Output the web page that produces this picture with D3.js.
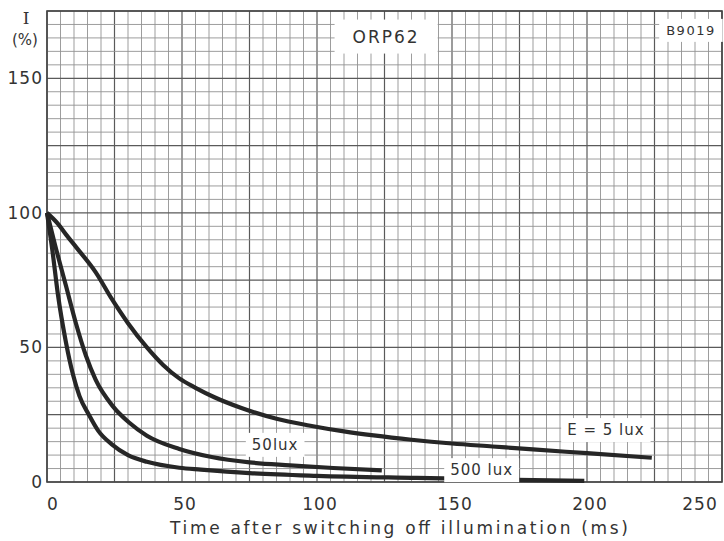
<!DOCTYPE html>
<html>
<head>
<meta charset="utf-8">
<script src="https://cdnjs.cloudflare.com/ajax/libs/d3/7.8.5/d3.min.js"></script>
<style>
  body { margin: 0; background: #fff; }
  text { font-family: "DejaVu Sans", sans-serif; fill: #333; }
</style>
</head>
<body>
<div id="container"></div>
<script>
/* CONSTANTS AND GLOBALS */
const width = 724, height = 541;
const plot = { left: 47, right: 722, top: 11, bottom: 482 };

/* DATA */
const lux5T = [0, 4, 7, 11, 18, 24, 30, 37, 43, 49, 55, 62, 72, 85, 97, 110, 121, 135, 150, 165, 180, 200, 224];
const lux5I = [100, 96, 92, 87, 78, 68, 59, 50, 43.5, 38.5, 35, 31.5, 27.5, 23.5, 21, 18.8, 17.3, 15.7, 14.3, 13.2, 12.1, 10.7, 9];

const lux50T = [0, 3, 7, 10.7, 14.4, 18, 24.5, 30.5, 37, 49, 61, 75, 90, 106, 124];
const lux50I = [100, 88, 73, 59, 47, 38, 28, 22, 17.2, 12.3, 9.3, 7.3, 6.2, 5.2, 4.3];

const lux500T = [0, 2, 4, 7, 9.6, 12, 15.5, 19, 24, 30, 37, 49, 57, 75, 100, 137, 174, 199];
const lux500I = [100, 86, 70, 52, 40, 32, 25, 19, 14, 10, 7.5, 5.3, 4.6, 3.3, 2.3, 1.5, 0.8, 0.4];

const xTicks = [0, 50, 100, 150, 200, 250];
const yTicks = [0, 50, 100, 150];

const series = [
  { name: "E = 5 lux", t: lux5T, v: lux5I, lx: 207, ly: 19.3 },
  { name: "50lux", t: lux50T, v: lux50I, lx: 84.5, ly: 13.8 },
  { name: "500 lux", t: lux500T, v: lux500I, lx: 161, ly: 4.4 }
];

/* SCALES */
const xScale = d3.scaleLinear().domain([0, 250]).range([plot.left, plot.right]);
const yScale = d3.scaleLinear().domain([0, 175]).range([plot.bottom, plot.top]);

const svg = d3.select("#container")
  .append("svg")
  .attr("width", width)
  .attr("height", height);

/* GRID (graph paper: 5 ms / 5 % minor, 25 major) */
const grid = svg.append("g");
grid.selectAll(".vx")
  .data(d3.range(0, 251, 5))
  .join("line")
  .attr("x1", d => xScale(d)).attr("x2", d => xScale(d))
  .attr("y1", plot.top).attr("y2", plot.bottom)
  .attr("stroke", d => d % 25 === 0 ? "#5a5a5a" : "#929292")
  .attr("stroke-width", d => d % 25 === 0 ? 1.2 : 0.9);
grid.selectAll(".hy")
  .data(d3.range(0, 176, 5))
  .join("line")
  .attr("y1", d => yScale(d)).attr("y2", d => yScale(d))
  .attr("x1", plot.left).attr("x2", plot.right)
  .attr("stroke", d => d % 25 === 0 ? "#5a5a5a" : "#929292")
  .attr("stroke-width", d => d % 25 === 0 ? 1.2 : 0.9);

svg.append("rect")
  .attr("x", plot.left).attr("y", plot.top)
  .attr("width", plot.right - plot.left).attr("height", plot.bottom - plot.top)
  .attr("fill", "none").attr("stroke", "#444").attr("stroke-width", 1.6);

/* CURVES */
const line = d3.line()
  .x(d => xScale(d[0]))
  .y(d => yScale(d[1]))
  .curve(d3.curveMonotoneX);

svg.selectAll(".curve")
  .data(series)
  .join("path")
  .attr("d", s => line(s.t.map((t, i) => [t, s.v[i]])))
  .attr("fill", "none")
  .attr("stroke", "#262626")
  .attr("stroke-width", 4.2)
  .attr("stroke-linecap", "butt");

/* boxed labels on white background */
function boxedLabel(txt, cx, cy, size, padX, padY, spacing) {
  const g = svg.append("g");
  const bg = g.append("rect").attr("fill", "#fff");
  const t = g.append("text")
    .attr("x", cx).attr("y", cy)
    .attr("text-anchor", "middle")
    .attr("dominant-baseline", "central")
    .attr("font-size", size)
    .attr("letter-spacing", spacing)
    .text(txt);
  const b = t.node().getBBox();
  bg.attr("x", b.x - padX).attr("y", b.y - padY)
    .attr("width", b.width + 2 * padX).attr("height", b.height + 2 * padY);
}

series.forEach(s => boxedLabel(s.name, xScale(s.lx), yScale(s.ly), 15, 6, 3, 1));
boxedLabel("ORP62", xScale(125.6), yScale(165.5), 17, 18, 7, 2);
boxedLabel("B9019", xScale(238.5), yScale(167.8), 13, 7, 4, 1.5);

/* AXIS LABELS */
svg.append("g").selectAll("text")
  .data(xTicks)
  .join("text")
  .attr("x", d => xScale(d) + (d === 0 ? 6 : d === 250 ? -22 : 3))
  .attr("y", 510)
  .attr("text-anchor", "middle")
  .attr("font-size", 17)
  .attr("letter-spacing", 1)
  .text(d => d);

svg.append("g").selectAll("text")
  .data(yTicks)
  .join("text")
  .attr("x", 43)
  .attr("y", d => yScale(d))
  .attr("text-anchor", "end")
  .attr("dominant-baseline", "central")
  .attr("font-size", 17)
  .attr("letter-spacing", 1)
  .text(d => d);

svg.append("text")
  .attr("x", 26).attr("y", 18)
  .attr("text-anchor", "middle")
  .attr("dominant-baseline", "central")
  .style("font-family", "'DejaVu Serif', serif")
  .attr("font-size", 17)
  .text("I");

svg.append("text")
  .attr("x", 25).attr("y", 40)
  .attr("text-anchor", "middle")
  .attr("dominant-baseline", "central")
  .attr("font-size", 15)
  .text("(%)");

svg.append("text")
  .attr("x", 399).attr("y", 528)
  .attr("text-anchor", "middle")
  .attr("dominant-baseline", "central")
  .attr("font-size", 17)
  .attr("textLength", 458)
  .attr("lengthAdjust", "spacing")
  .text("Time after switching off illumination  (ms)");
</script>
</body>
</html>
